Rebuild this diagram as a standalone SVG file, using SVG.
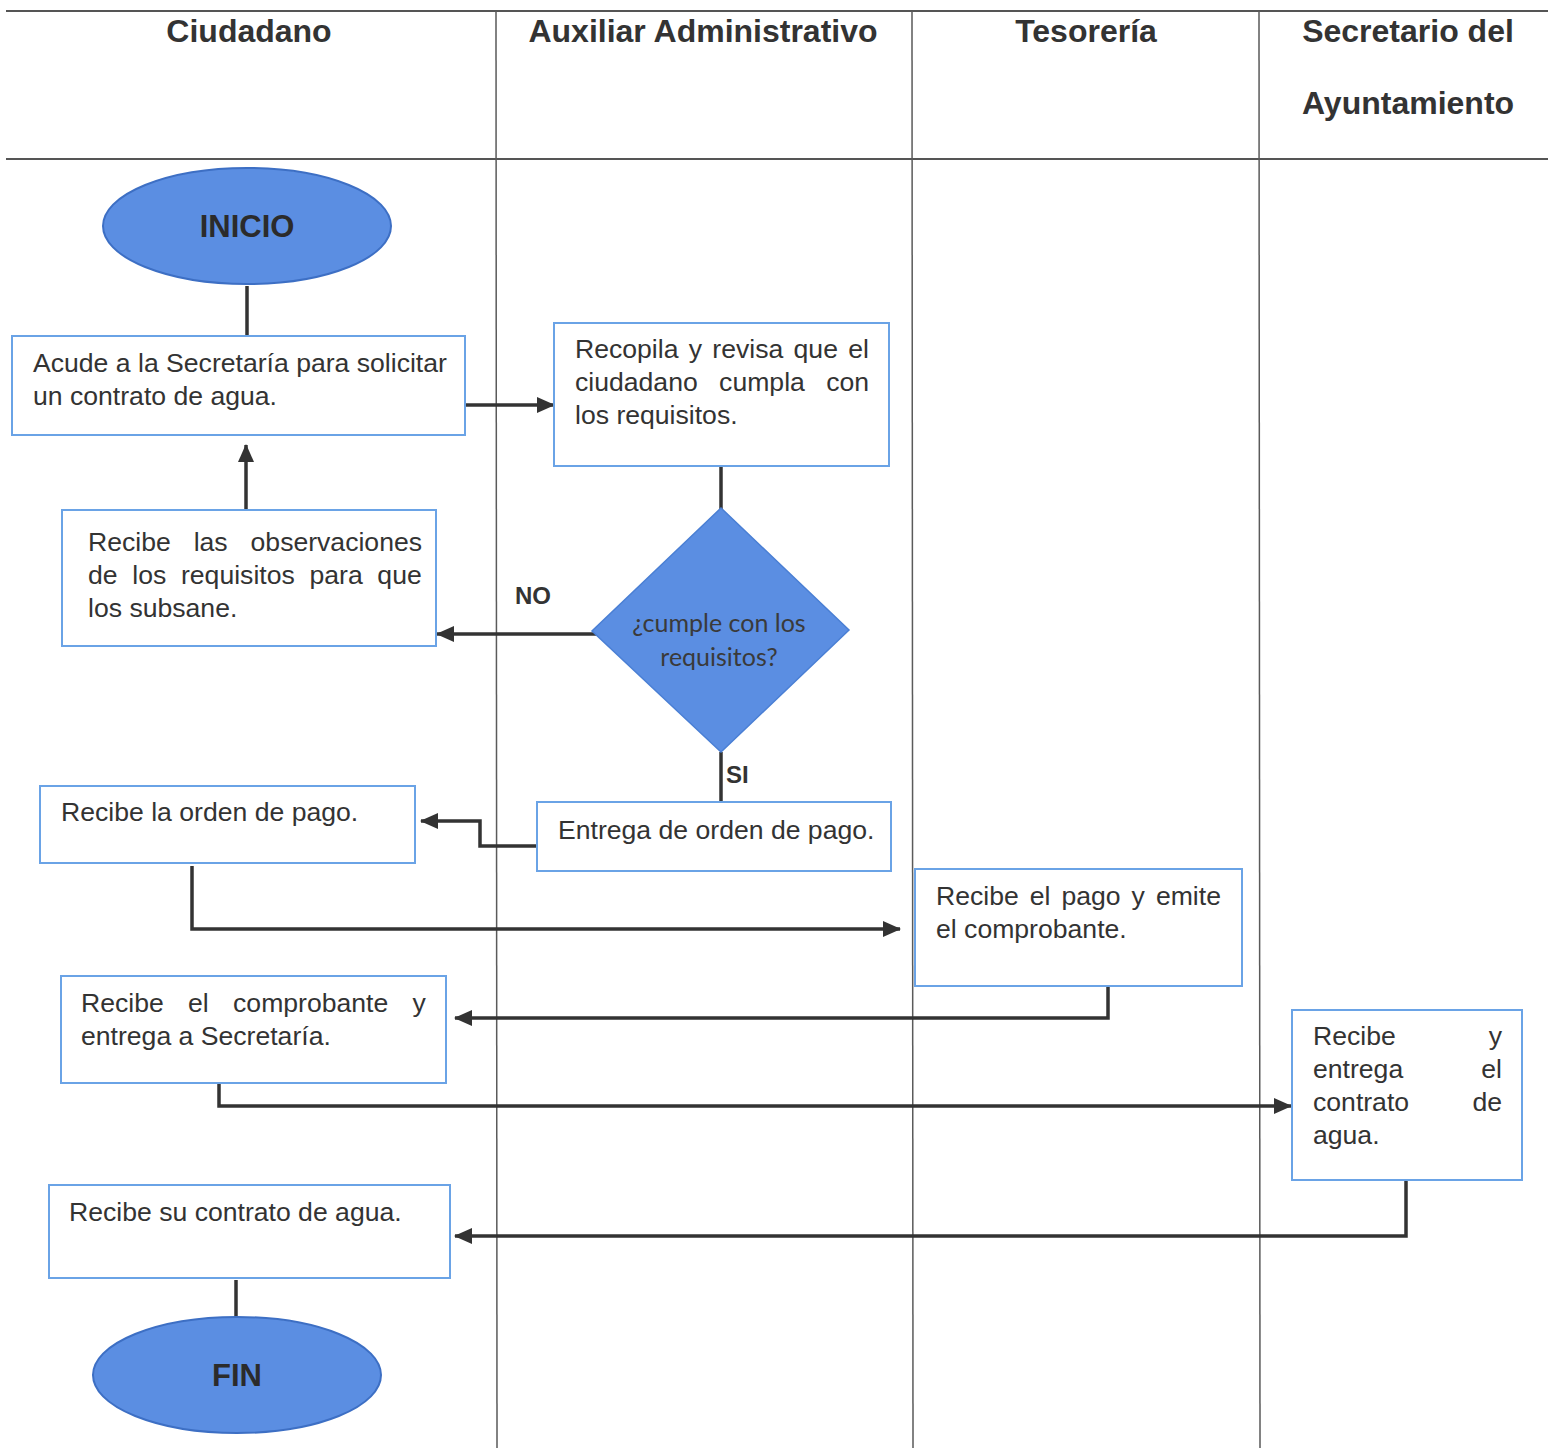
<svg xmlns="http://www.w3.org/2000/svg" width="1548" height="1448" viewBox="0 0 1548 1448">
  <style>
    .lane { stroke: #5a5a5a; stroke-width: 1.5; fill: none; }
    .rule { stroke: #555; stroke-width: 2; fill: none; }
    .hdr { font-family: "Liberation Sans", Arial, sans-serif; font-size: 32px; font-weight: bold; fill: #333; text-anchor: middle; }
    .box { fill: #fff; stroke: #6aa3e6; stroke-width: 2; }
    .term { fill: #5b8ee2; stroke: #3d6fc4; stroke-width: 2; }
    .dec { fill: #5b8ee2; stroke: #4a7fd4; stroke-width: 1.5; }
    .txt { font-family: "Liberation Sans", Arial, sans-serif; font-size: 26.6px; fill: #333; }
    .ttl { font-family: "Liberation Sans", Arial, sans-serif; font-size: 31px; font-weight: bold; fill: #2b2b2b; text-anchor: middle; }
    .q { font-family: Lato, "Open Sans", sans-serif; font-size: 25px; fill: #3a3a3a; text-anchor: middle; }
    .lbl { font-family: "Liberation Sans", Arial, sans-serif; font-size: 24px; font-weight: bold; fill: #333; }
    .con { stroke: #333; stroke-width: 3.5; fill: none; }
  </style>
  <defs>
    <marker id="arrow" markerUnits="userSpaceOnUse" markerWidth="20" markerHeight="20" refX="17" refY="10" orient="auto">
      <path d="M0,2 L18,10 L0,18 Z" fill="#333"/>
    </marker>
  </defs>

  <!-- swimlane grid -->
  <g id="lanes">
    <line class="rule" x1="6" y1="11" x2="1548" y2="11"/>
    <line class="rule" x1="6" y1="159" x2="1548" y2="159"/>
    <line class="lane" x1="496" y1="11" x2="497" y2="1448"/>
    <line class="lane" x1="912" y1="11" x2="913" y2="1448"/>
    <line class="lane" x1="1259" y1="11" x2="1260" y2="1448"/>
    <text class="hdr" x="249" y="42">Ciudadano</text>
    <text class="hdr" x="703" y="42">Auxiliar Administrativo</text>
    <text class="hdr" x="1086" y="42">Tesorería</text>
    <text class="hdr" x="1408" y="42">Secretario del</text>
    <text class="hdr" x="1408" y="114">Ayuntamiento</text>
  </g>

  <!-- connectors -->
  <g id="connectors">
    <line class="con" x1="247" y1="286" x2="247" y2="336"/>
    <line class="con" x1="465" y1="405" x2="554" y2="405" marker-end="url(#arrow)"/>
    <line class="con" x1="721" y1="466" x2="721" y2="509"/>
    <line class="con" x1="597" y1="634" x2="437" y2="634" marker-end="url(#arrow)"/>
    <line class="con" x1="246" y1="510" x2="246" y2="445" marker-end="url(#arrow)"/>
    <line class="con" x1="721" y1="752" x2="721" y2="802"/>
    <polyline class="con" points="537,846 480,846 480,821 421,821" marker-end="url(#arrow)"/>
    <polyline class="con" points="192,866 192,929 900,929" marker-end="url(#arrow)"/>
    <polyline class="con" points="1108,986 1108,1018 455,1018" marker-end="url(#arrow)"/>
    <polyline class="con" points="219,1083 219,1106 1291,1106" marker-end="url(#arrow)"/>
    <polyline class="con" points="1406,1181 1406,1236 455,1236" marker-end="url(#arrow)"/>
    <line class="con" x1="236" y1="1280" x2="236" y2="1318"/>
    <text class="lbl" x="515" y="604">NO</text>
    <text class="lbl" x="726" y="783">SI</text>
  </g>

  <g id="inicio">
    <ellipse class="term" cx="247" cy="226" rx="144" ry="58"/>
    <text class="ttl" x="247" y="237">INICIO</text>
  </g>

  <g id="acude">
    <rect class="box" x="12" y="336" width="453" height="99"/>
    <text class="txt" x="33" y="372">Acude a la Secretaría para solicitar</text>
    <text class="txt" x="33" y="405">un contrato de agua.</text>
  </g>

  <g id="recopila">
    <rect class="box" x="554" y="323" width="335" height="143"/>
    <text class="txt" x="575" y="358" word-spacing="2.9">Recopila y revisa que el</text>
    <text class="txt" x="575" y="391" word-spacing="14">ciudadano cumpla con</text>
    <text class="txt" x="575" y="424">los requisitos.</text>
  </g>

  <g id="cumple">
    <polygon class="dec" points="721,508 849,630 721,752 592,631"/>
    <text class="q" x="719" y="632">¿cumple con los</text>
    <text class="q" x="719" y="666">requisitos?</text>
  </g>

  <g id="observaciones">
    <rect class="box" x="62" y="510" width="374" height="136"/>
    <text class="txt" x="88" y="551" word-spacing="15.5">Recibe las observaciones</text>
    <text class="txt" x="88" y="584" word-spacing="7.3">de los requisitos para que</text>
    <text class="txt" x="88" y="617">los subsane.</text>
  </g>

  <g id="entrega-orden">
    <rect class="box" x="537" y="802" width="354" height="69"/>
    <text class="txt" x="558" y="839">Entrega de orden de pago.</text>
  </g>

  <g id="recibe-orden">
    <rect class="box" x="40" y="786" width="375" height="77"/>
    <text class="txt" x="61" y="821">Recibe la orden de pago.</text>
  </g>

  <g id="pago">
    <rect class="box" x="915" y="869" width="327" height="117"/>
    <text class="txt" x="936" y="905" word-spacing="3.6">Recibe el pago y emite</text>
    <text class="txt" x="936" y="938">el comprobante.</text>
  </g>

  <g id="comprobante">
    <rect class="box" x="61" y="976" width="385" height="107"/>
    <text class="txt" x="81" y="1012" word-spacing="16.9">Recibe el comprobante y</text>
    <text class="txt" x="81" y="1045">entrega a Secretaría.</text>
  </g>

  <g id="contrato">
    <rect class="box" x="1292" y="1010" width="230" height="170"/>
    <text class="txt" x="1313" y="1045">Recibe</text>
    <text class="txt" x="1502" y="1045" text-anchor="end">y</text>
    <text class="txt" x="1313" y="1078">entrega</text>
    <text class="txt" x="1502" y="1078" text-anchor="end">el</text>
    <text class="txt" x="1313" y="1111">contrato</text>
    <text class="txt" x="1502" y="1111" text-anchor="end">de</text>
    <text class="txt" x="1313" y="1144">agua.</text>
  </g>

  <g id="recibe-contrato">
    <rect class="box" x="49" y="1185" width="401" height="93"/>
    <text class="txt" x="69" y="1221">Recibe su contrato de agua.</text>
  </g>

  <g id="fin">
    <ellipse class="term" cx="237" cy="1375" rx="144" ry="58"/>
    <text class="ttl" x="237" y="1386">FIN</text>
  </g>
</svg>
